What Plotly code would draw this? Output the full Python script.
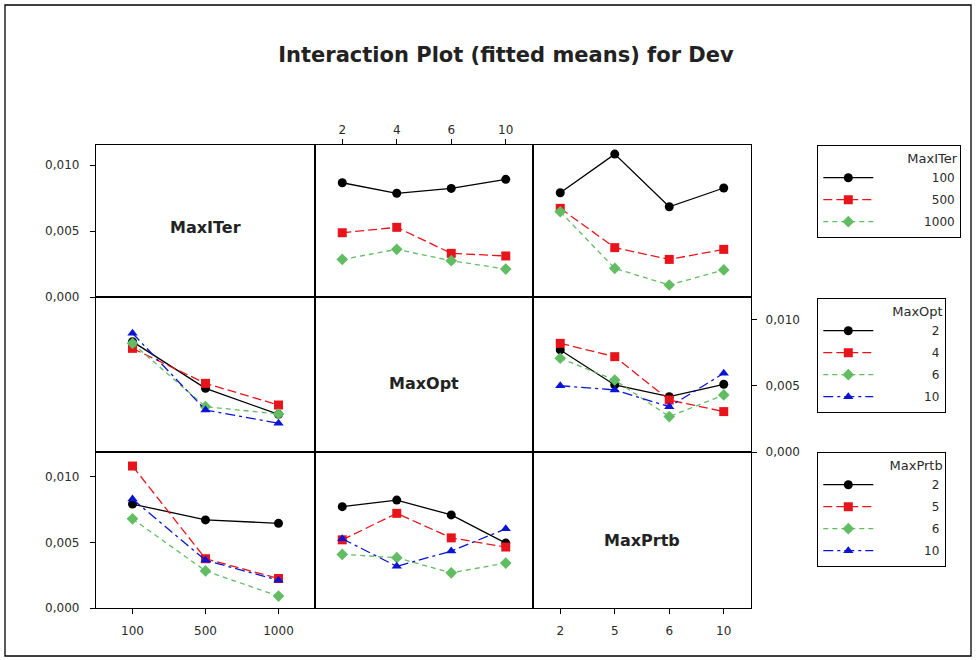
import plotly.graph_objects as go
from plotly.subplots import make_subplots

# ---------------- data ----------------
maxiter_levels = ["100", "500", "1000"]
maxopt_levels = ["2", "4", "6", "10"]
maxprtb_levels = ["2", "5", "6", "10"]

# Row 1: MaxITer series
iter_by_opt = [
    [0.00866, 0.00786, 0.00823, 0.00892],   # MaxITer 100
    [0.00487, 0.00528, 0.00331, 0.00311],   # MaxITer 500
    [0.00285, 0.00361, 0.00275, 0.00212],   # MaxITer 1000
]
iter_by_prtb = [
    [0.00790, 0.01083, 0.00684, 0.00826],
    [0.00672, 0.00374, 0.00285, 0.00361],
    [0.00646, 0.00217, 0.00091, 0.00205],
]
# Row 2: MaxOpt series
opt_by_iter = [
    [0.00836, 0.00482, 0.00285],   # MaxOpt 2
    [0.00785, 0.00520, 0.00356],   # MaxOpt 4
    [0.00823, 0.00343, 0.00288],   # MaxOpt 6
    [0.00899, 0.00318, 0.00217],   # MaxOpt 10
]
opt_by_prtb = [
    [0.00773, 0.00508, 0.00419, 0.00513],
    [0.00823, 0.00722, 0.00394, 0.00306],
    [0.00710, 0.00545, 0.00268, 0.00432],
    [0.00502, 0.00470, 0.00343, 0.00596],
]
# Row 3: MaxPrtb series
prtb_by_iter = [
    [0.00793, 0.00672, 0.00646],   # MaxPrtb 2
    [0.01083, 0.00376, 0.00225],   # MaxPrtb 5
    [0.00680, 0.00283, 0.00091],   # MaxPrtb 6
    [0.00831, 0.00364, 0.00212],   # MaxPrtb 10
]
prtb_by_opt = [
    [0.00773, 0.00823, 0.00710, 0.00495],
    [0.00520, 0.00722, 0.00535, 0.00465],
    [0.00409, 0.00384, 0.00268, 0.00343],
    [0.00528, 0.00318, 0.00434, 0.00604],
]

y_ticks = [0.0, 0.005, 0.010]
factor_names = ["MaxITer", "MaxOpt", "MaxPrtb"]
title_text = "Interaction Plot (fitted means) for Dev"

# ---------------- styles ----------------
styles = [
    dict(color="#000000", symbol="circle", dash="solid"),
    dict(color="#e8141c", symbol="square", dash="9px,4px"),
    dict(color="#62bd62", symbol="diamond", dash="5px,4px"),
    dict(color="#0a14d2", symbol="triangle-up", dash="10px,4px,3px,4px"),
]
FONT = "DejaVu Sans"
PAD = 6  # extra figure spaces to push legend labels to the right

fig = make_subplots(rows=3, cols=3, horizontal_spacing=0, vertical_spacing=0)


def add_series(row, col, xcats, ys_list, labels, legend, show):
    width = len(max(labels, key=len))
    for i, ys in enumerate(ys_list):
        st = styles[i]
        fig.add_trace(
            go.Scatter(
                x=xcats, y=ys, mode="lines+markers",
                name="\u2007" * (PAD + width - len(labels[i])) + labels[i],
                legend=legend, showlegend=show, legendgroup=legend + str(i),
                line=dict(color=st["color"], dash=st["dash"], width=1.3),
                marker=dict(color=st["color"], symbol=st["symbol"], size=9,
                            line=dict(width=0)),
            ),
            row=row, col=col,
        )


add_series(1, 2, maxopt_levels, iter_by_opt, maxiter_levels, "legend", True)
add_series(1, 3, maxprtb_levels, iter_by_prtb, maxiter_levels, "legend", False)
add_series(2, 1, maxiter_levels, opt_by_iter, maxopt_levels, "legend2", True)
add_series(2, 3, maxprtb_levels, opt_by_prtb, maxopt_levels, "legend2", False)
add_series(3, 1, maxiter_levels, prtb_by_iter, maxprtb_levels, "legend3", True)
add_series(3, 2, maxopt_levels, prtb_by_opt, maxprtb_levels, "legend3", False)

# empty traces so the diagonal panels get drawn
for k in range(3):
    fig.add_trace(go.Scatter(x=[None], y=[None], mode="markers", showlegend=False,
                             hoverinfo="skip"), row=k + 1, col=k + 1)

# ---------------- layout geometry ----------------
W, H = 977, 660
L, R, T, B = 96, 751, 145, 608
pw, ph = R - L, B - T
col_edges = [96, 315, 533, 751]
row_edges = [145, 297, 452, 608]
xdom = [[(col_edges[c] - L) / pw, (col_edges[c + 1] - L) / pw] for c in range(3)]
ydom = [[(B - row_edges[r + 1]) / ph, (B - row_edges[r]) / ph] for r in range(3)]
y_tops = [0.01152, 0.01174, 0.0119]
col_cats = [maxiter_levels, maxopt_levels, maxprtb_levels]
tick_font = dict(family=FONT, size=12, color="#2a2a2a")

for r in range(3):
    for c in range(3):
        idx = r * 3 + c + 1
        xa = "xaxis" if idx == 1 else f"xaxis{idx}"
        ya = "yaxis" if idx == 1 else f"yaxis{idx}"
        n = len(col_cats[c])
        xcfg = dict(domain=xdom[c], type="category", categoryorder="array",
                    categoryarray=col_cats[c], range=[-0.5, n - 0.5],
                    showline=True, mirror=True, linecolor="#000", linewidth=1.3,
                    showgrid=False, zeroline=False, ticks="", showticklabels=False,
                    fixedrange=True)
        ycfg = dict(domain=ydom[r], range=[0, y_tops[r]],
                    showline=True, mirror=True, linecolor="#000", linewidth=1.3,
                    showgrid=False, zeroline=False, ticks="", showticklabels=False,
                    tickvals=y_ticks, tickformat=".3f", fixedrange=True)
        if (r, c) in [(2, 0), (2, 2)]:
            xcfg.update(ticks="outside", ticklen=5, tickcolor="#000",
                        showticklabels=True, tickfont=tick_font,
                        ticklabelstandoff=6)
        if (r, c) == (0, 1):
            xcfg.update(side="top", ticks="outside", ticklen=5, tickcolor="#000",
                        showticklabels=True, tickfont=tick_font)
        if (r, c) in [(0, 0), (2, 0)]:
            ycfg.update(ticks="outside", ticklen=5, tickcolor="#000",
                        showticklabels=True, tickfont=tick_font,
                        ticklabelstandoff=8)
        if (r, c) == (1, 2):
            ycfg.update(side="right", ticks="outside", ticklen=5, tickcolor="#000",
                        showticklabels=True, tickfont=tick_font,
                        ticklabelstandoff=6)
        fig.layout[xa].update(xcfg)
        fig.layout[ya].update(ycfg)

# diagonal labels
diag_pos = [(0, 0, 228), (1, 1, 383), (2, 2, 540)]
for (r, c, ypx), name in zip(diag_pos, factor_names):
    fig.add_annotation(
        text=f"<b>{name}</b>", xref="paper", yref="paper",
        x=((col_edges[c] + col_edges[c + 1]) / 2 - L) / pw,
        y=(B - ypx) / ph, xanchor="center", yanchor="middle", showarrow=False,
        font=dict(family=FONT, size=16, color="#222"),
    )

legend_common = dict(
    bgcolor="white", bordercolor="#000", borderwidth=1.3,
    font=dict(family=FONT, size=12, color="#2a2a2a"),
    xanchor="left", yanchor="top", itemwidth=50, tracegroupgap=3,
    itemclick=False, itemdoubleclick=False,
)
title_font = dict(family=FONT, size=13, color="#2a2a2a")
lx = (817 - L) / pw
fig.update_layout(
    width=W, height=H,
    margin=dict(l=L, r=W - R, t=T, b=H - B),
    paper_bgcolor="white", plot_bgcolor="white",
    separators=",.",
    title=dict(text=f"<b>{title_text}</b>", x=506 / W, xanchor="center",
               y=1 - 55 / H, yanchor="middle",
               font=dict(family=FONT, size=21, color="#222")),
    legend=dict(legend_common, x=lx, y=1.0,
                title=dict(text="MaxITer", side="top right", font=title_font)),
    legend2=dict(legend_common, x=lx, y=(B - 298) / ph,
                 title=dict(text="MaxOpt", side="top right", font=title_font)),
    legend3=dict(legend_common, x=lx, y=(B - 452) / ph,
                 title=dict(text="MaxPrtb", side="top right", font=title_font)),
)

# outer frame
fig.add_shape(type="rect", xref="paper", yref="paper",
              x0=(5 - L) / pw, x1=(971 - L) / pw,
              y0=(B - 656) / ph, y1=(B - 5) / ph,
              line=dict(color="#000", width=1.3), fillcolor="rgba(0,0,0,0)",
              layer="below")

fig.write_html("out.html")
